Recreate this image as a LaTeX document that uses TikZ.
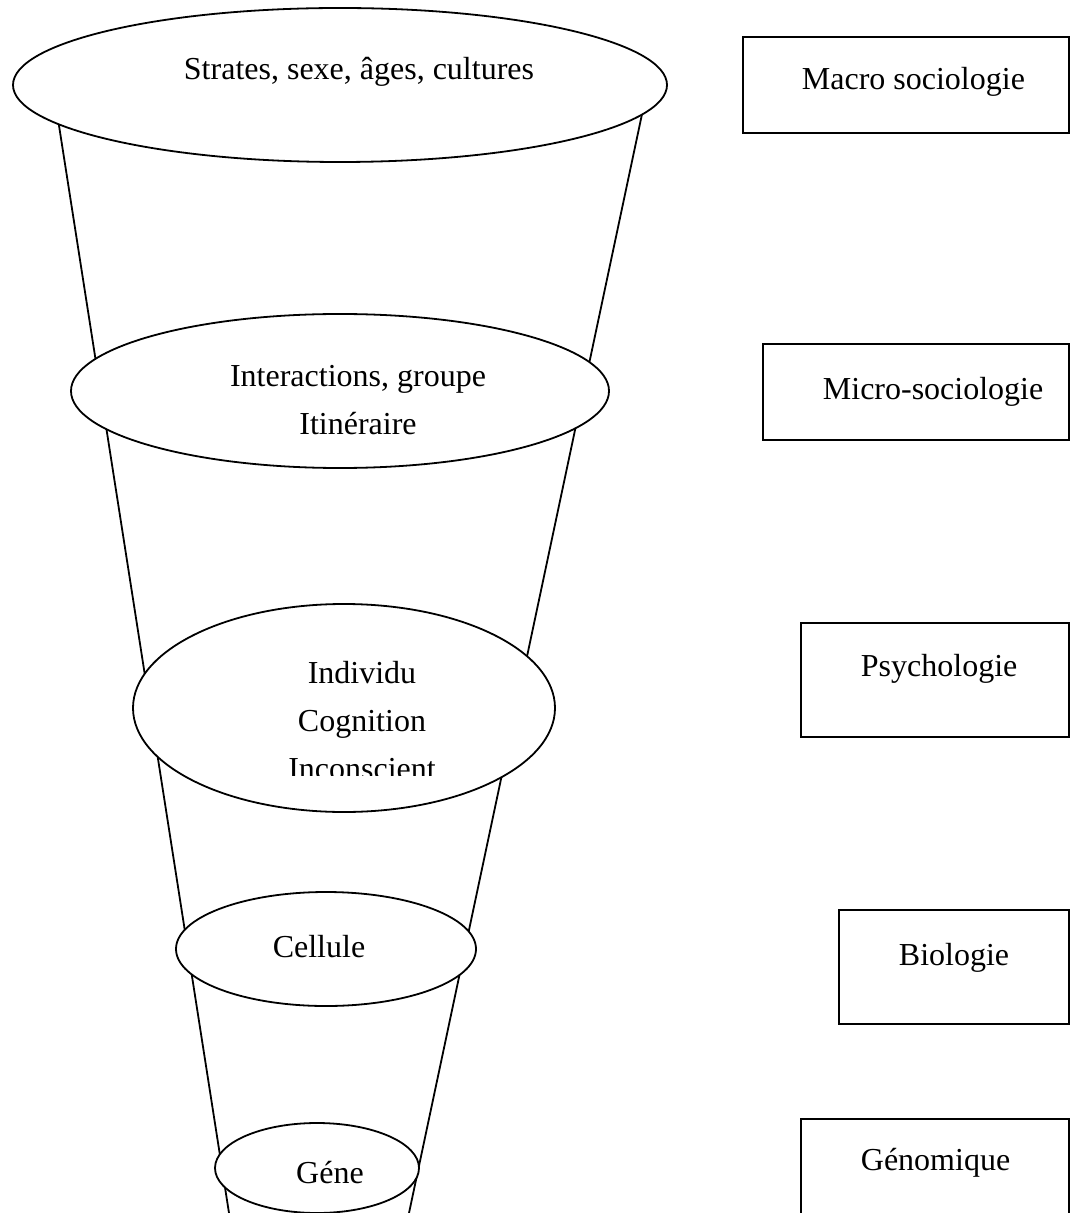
\documentclass[tikz,border=0pt]{standalone}
\usepackage{fontspec}
\setmainfont{Liberation Serif}
\begin{document}
\begin{tikzpicture}[x=0.5pt, y=-0.5pt, line width=0.9pt,
  blob/.style={draw, fill=white},
  word/.style={inner sep=0pt, font=\fontsize{16}{24}\selectfont, align=center}]
\clip (0,0) rectangle (1074,1213);
% funnel sides
\coordinate (lefttop) at (55,100);
\coordinate (leftbot) at (229,1213);
\coordinate (righttop) at (645,100);
\coordinate (rightbot) at (409,1213);
\draw (lefttop) -- (leftbot);
\draw (righttop) -- (rightbot);
% levels
\filldraw[blob] (340,85) ellipse [x radius=327, y radius=77];
\filldraw[blob] (340,391) ellipse [x radius=269, y radius=77];
\filldraw[blob] (344,708) ellipse [x radius=211, y radius=104];
\filldraw[blob] (326,949) ellipse [x radius=150, y radius=57];
\filldraw[blob] (317,1168) ellipse [x radius=102, y radius=45];
\node[word, anchor=base] (strates) at (359,80) {Strates, sexe, âges, cultures};
\node[word, anchor=base] (inter) at (358,434) {Interactions, groupe\\Itinéraire};
\begin{scope}
\clip (200,560) rectangle (520,775);
\node[word, anchor=base] (indiv) at (362,779) {Individu\\Cognition\\Inconscient};
\end{scope}
\node[word, anchor=base] (cell) at (319,957) {Cellule};
\node[word, anchor=base] (gene) at (330,1183) {Géne};
% disciplines
\draw (743,37) rectangle (1069,133);
\draw (763,344) rectangle (1069,440);
\draw (801,623) rectangle (1069,737);
\draw (839,910) rectangle (1069,1024);
\draw (801,1119) rectangle (1069,1240);
\node[word, anchor=base west] (macro) at (801,90) {Macro sociologie};
\node[word, anchor=base west] (micro) at (822,400) {Micro-sociologie};
\node[word, anchor=base west] (psy) at (860,676) {Psychologie};
\node[word, anchor=base west] (bio) at (898,965) {Biologie};
\node[word, anchor=base west] (geno) at (860,1170) {Génomique};
\end{tikzpicture}
\end{document}
